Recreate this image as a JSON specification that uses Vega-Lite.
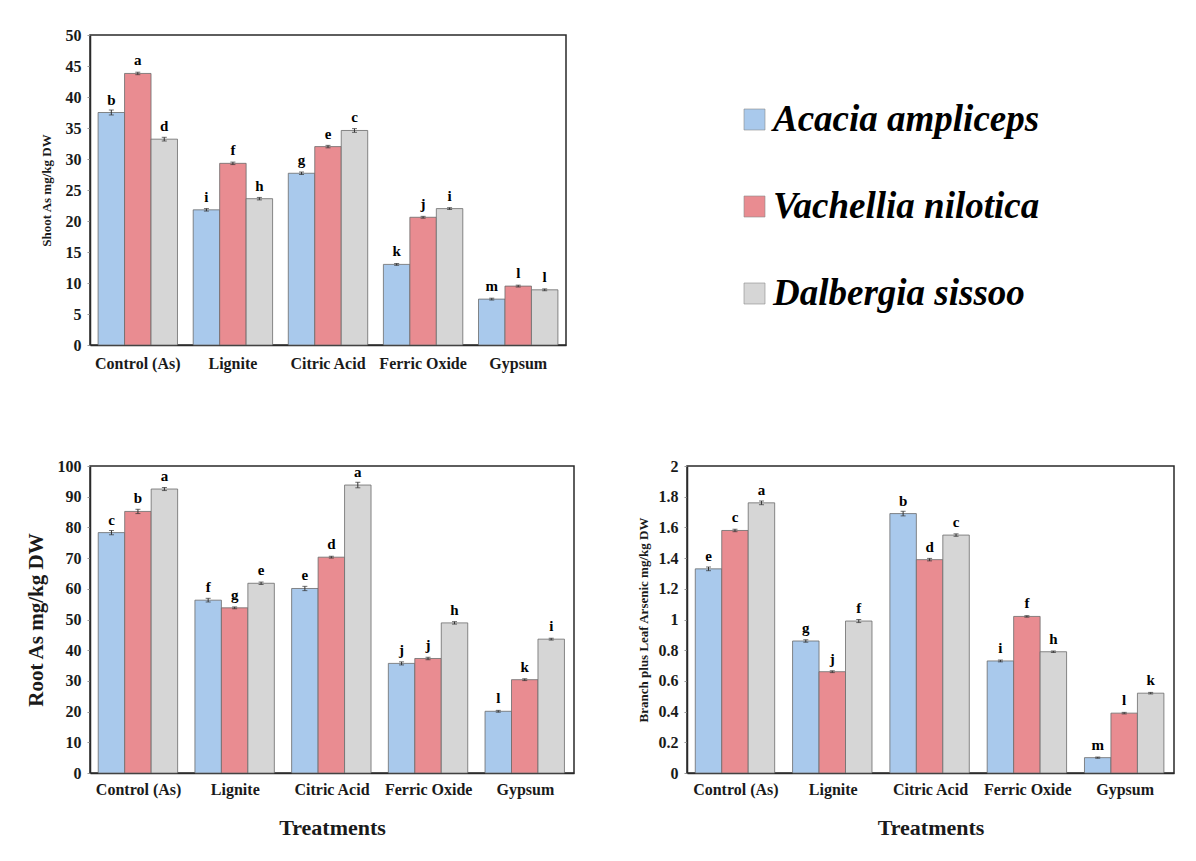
{
  "$schema": "https://vega.github.io/schema/vega-lite/v6.json",
  "background": "white",
  "padding": {"left": 24, "top": 26, "right": 5, "bottom": 5},
  "datasets": {
    "shootData": [
      {"treatment": "Control (As)", "species": "Acacia ampliceps", "value": 37.5, "err": 0.4, "letter": "b"},
      {"treatment": "Control (As)", "species": "Vachellia nilotica", "value": 43.8, "err": 0.2, "letter": "a"},
      {"treatment": "Control (As)", "species": "Dalbergia sissoo", "value": 33.2, "err": 0.3, "letter": "d"},
      {"treatment": "Lignite", "species": "Acacia ampliceps", "value": 21.8, "err": 0.2, "letter": "i"},
      {"treatment": "Lignite", "species": "Vachellia nilotica", "value": 29.3, "err": 0.2, "letter": "f"},
      {"treatment": "Lignite", "species": "Dalbergia sissoo", "value": 23.6, "err": 0.2, "letter": "h"},
      {"treatment": "Citric Acid", "species": "Acacia ampliceps", "value": 27.7, "err": 0.2, "letter": "g"},
      {"treatment": "Citric Acid", "species": "Vachellia nilotica", "value": 32.0, "err": 0.2, "letter": "e"},
      {"treatment": "Citric Acid", "species": "Dalbergia sissoo", "value": 34.6, "err": 0.3, "letter": "c"},
      {"treatment": "Ferric Oxide", "species": "Acacia ampliceps", "value": 13.0, "err": 0.15, "letter": "k"},
      {"treatment": "Ferric Oxide", "species": "Vachellia nilotica", "value": 20.6, "err": 0.15, "letter": "j"},
      {"treatment": "Ferric Oxide", "species": "Dalbergia sissoo", "value": 22.0, "err": 0.15, "letter": "i"},
      {"treatment": "Gypsum", "species": "Acacia ampliceps", "value": 7.4, "err": 0.15, "letter": "m"},
      {"treatment": "Gypsum", "species": "Vachellia nilotica", "value": 9.5, "err": 0.15, "letter": "l"},
      {"treatment": "Gypsum", "species": "Dalbergia sissoo", "value": 8.9, "err": 0.15, "letter": "l"}
    ],
    "rootData": [
      {"treatment": "Control (As)", "species": "Acacia ampliceps", "value": 78.3, "err": 0.7, "letter": "c"},
      {"treatment": "Control (As)", "species": "Vachellia nilotica", "value": 85.2, "err": 0.7, "letter": "b"},
      {"treatment": "Control (As)", "species": "Dalbergia sissoo", "value": 92.5, "err": 0.5, "letter": "a"},
      {"treatment": "Lignite", "species": "Acacia ampliceps", "value": 56.3, "err": 0.6, "letter": "f"},
      {"treatment": "Lignite", "species": "Vachellia nilotica", "value": 53.8, "err": 0.3, "letter": "g"},
      {"treatment": "Lignite", "species": "Dalbergia sissoo", "value": 61.8, "err": 0.4, "letter": "e"},
      {"treatment": "Citric Acid", "species": "Acacia ampliceps", "value": 60.1, "err": 0.7, "letter": "e"},
      {"treatment": "Citric Acid", "species": "Vachellia nilotica", "value": 70.3, "err": 0.3, "letter": "d"},
      {"treatment": "Citric Acid", "species": "Dalbergia sissoo", "value": 93.8, "err": 0.9, "letter": "a"},
      {"treatment": "Ferric Oxide", "species": "Acacia ampliceps", "value": 35.7, "err": 0.5, "letter": "j"},
      {"treatment": "Ferric Oxide", "species": "Vachellia nilotica", "value": 37.3, "err": 0.4, "letter": "j"},
      {"treatment": "Ferric Oxide", "species": "Dalbergia sissoo", "value": 48.9, "err": 0.4, "letter": "h"},
      {"treatment": "Gypsum", "species": "Acacia ampliceps", "value": 20.1, "err": 0.3, "letter": "l"},
      {"treatment": "Gypsum", "species": "Vachellia nilotica", "value": 30.4, "err": 0.3, "letter": "k"},
      {"treatment": "Gypsum", "species": "Dalbergia sissoo", "value": 43.6, "err": 0.3, "letter": "i"}
    ],
    "branchData": [
      {"treatment": "Control (As)", "species": "Acacia ampliceps", "value": 1.33, "err": 0.012, "letter": "e"},
      {"treatment": "Control (As)", "species": "Vachellia nilotica", "value": 1.58, "err": 0.008, "letter": "c"},
      {"treatment": "Control (As)", "species": "Dalbergia sissoo", "value": 1.76, "err": 0.012, "letter": "a"},
      {"treatment": "Lignite", "species": "Acacia ampliceps", "value": 0.86, "err": 0.008, "letter": "g"},
      {"treatment": "Lignite", "species": "Vachellia nilotica", "value": 0.66, "err": 0.006, "letter": "j"},
      {"treatment": "Lignite", "species": "Dalbergia sissoo", "value": 0.99, "err": 0.01, "letter": "f"},
      {"treatment": "Citric Acid", "species": "Acacia ampliceps", "value": 1.69, "err": 0.015, "letter": "b"},
      {"treatment": "Citric Acid", "species": "Vachellia nilotica", "value": 1.39, "err": 0.008, "letter": "d"},
      {"treatment": "Citric Acid", "species": "Dalbergia sissoo", "value": 1.55, "err": 0.008, "letter": "c"},
      {"treatment": "Ferric Oxide", "species": "Acacia ampliceps", "value": 0.73, "err": 0.006, "letter": "i"},
      {"treatment": "Ferric Oxide", "species": "Vachellia nilotica", "value": 1.02, "err": 0.005, "letter": "f"},
      {"treatment": "Ferric Oxide", "species": "Dalbergia sissoo", "value": 0.79, "err": 0.005, "letter": "h"},
      {"treatment": "Gypsum", "species": "Acacia ampliceps", "value": 0.10, "err": 0.004, "letter": "m"},
      {"treatment": "Gypsum", "species": "Vachellia nilotica", "value": 0.39, "err": 0.005, "letter": "l"},
      {"treatment": "Gypsum", "species": "Dalbergia sissoo", "value": 0.52, "err": 0.005, "letter": "k"}
    ],
    "legendData": [
      {"species": "Acacia ampliceps"},
      {"species": "Vachellia nilotica"},
      {"species": "Dalbergia sissoo"}
    ]
  },
  "columns": 2,
  "bounds": "flush",
  "spacing": {"row": 121, "column": 113},
  "resolve": {"legend": {"color": "independent"}},
  "concat": [
    {
      "data": {"name": "shootData"},
      "width": 476,
      "height": 310,
      "encoding": {
        "x": {"field": "treatment", "type": "nominal", "sort": ["Control (As)", "Lignite", "Citric Acid", "Ferric Oxide", "Gypsum"], "scale": {"paddingInner": 0.165, "paddingOuter": 0.085}, "axis": {"title": null, "labelPadding": 10}},
        "xOffset": {"field": "species", "type": "nominal", "sort": ["Acacia ampliceps", "Vachellia nilotica", "Dalbergia sissoo"], "scale": {"paddingInner": 0, "paddingOuter": 0}},
        "y": {"field": "value", "type": "quantitative", "scale": {"domain": [0, 50], "nice": false}, "axis": {"values": [0, 5, 10, 15, 20, 25, 30, 35, 40, 45, 50], "title": "Shoot As mg/kg DW", "titleFontSize": 13, "titlePadding": 12}}
      },
      "layer": [
        {"mark": {"type": "bar", "stroke": "#6b6b6b", "strokeWidth": 0.8}, "encoding": {"color": {"field": "species", "type": "nominal", "scale": {"domain": ["Acacia ampliceps", "Vachellia nilotica", "Dalbergia sissoo"], "range": ["#a9c9ec", "#e98c91", "#d6d6d6"]}, "legend": null}}},
        {"mark": {"type": "errorbar", "ticks": {"size": 5}, "color": "#333"}, "encoding": {"yError": {"field": "err"}}},
        {"mark": {"type": "text", "baseline": "bottom", "dy": -5, "fontSize": 15, "fontWeight": "bold", "font": "Liberation Serif", "color": "black"}, "encoding": {"text": {"field": "letter"}}}
      ]
    },
    {
      "data": {"name": "legendData"},
      "width": 487,
      "height": 310,
      "view": {"stroke": null},
      "mark": {"type": "square", "opacity": 0, "size": 0},
      "encoding": {
        "color": {"field": "species", "type": "nominal", "sort": ["Acacia ampliceps", "Vachellia nilotica", "Dalbergia sissoo"], "scale": {"domain": ["Acacia ampliceps", "Vachellia nilotica", "Dalbergia sissoo"], "range": ["#a9c9ec", "#e98c91", "#d6d6d6"]},
          "legend": {"orient": "none", "legendX": 49, "legendY": 66, "title": null, "symbolType": "square", "symbolSize": 441, "symbolOpacity": 1, "symbolStrokeColor": "#8a8a8a", "symbolStrokeWidth": 0.6, "labelFont": "Liberation Serif", "labelFontSize": 37, "labelFontStyle": "italic", "labelFontWeight": "bold", "labelColor": "black", "labelLimit": 0, "labelOffset": 0, "rowPadding": 49}}
      }
    },
    {
      "data": {"name": "rootData"},
      "width": 484,
      "height": 307,
      "encoding": {
        "x": {"field": "treatment", "type": "nominal", "sort": ["Control (As)", "Lignite", "Citric Acid", "Ferric Oxide", "Gypsum"], "scale": {"paddingInner": 0.165, "paddingOuter": 0.085}, "axis": {"title": "Treatments", "labelPadding": 8, "titleFontSize": 22, "titlePadding": 20}},
        "xOffset": {"field": "species", "type": "nominal", "sort": ["Acacia ampliceps", "Vachellia nilotica", "Dalbergia sissoo"], "scale": {"paddingInner": 0, "paddingOuter": 0}},
        "y": {"field": "value", "type": "quantitative", "scale": {"domain": [0, 100], "nice": false}, "axis": {"values": [0, 10, 20, 30, 40, 50, 60, 70, 80, 90, 100], "title": "Root As mg/kg DW", "titleFontSize": 21, "titlePadding": 11}}
      },
      "layer": [
        {"mark": {"type": "bar", "stroke": "#6b6b6b", "strokeWidth": 0.8}, "encoding": {"color": {"field": "species", "type": "nominal", "scale": {"domain": ["Acacia ampliceps", "Vachellia nilotica", "Dalbergia sissoo"], "range": ["#a9c9ec", "#e98c91", "#d6d6d6"]}, "legend": null}}},
        {"mark": {"type": "errorbar", "ticks": {"size": 5}, "color": "#333"}, "encoding": {"yError": {"field": "err"}}},
        {"mark": {"type": "text", "baseline": "bottom", "dy": -5, "fontSize": 15, "fontWeight": "bold", "font": "Liberation Serif", "color": "black"}, "encoding": {"text": {"field": "letter"}}}
      ]
    },
    {
      "data": {"name": "branchData"},
      "width": 487,
      "height": 307,
      "encoding": {
        "x": {"field": "treatment", "type": "nominal", "sort": ["Control (As)", "Lignite", "Citric Acid", "Ferric Oxide", "Gypsum"], "scale": {"paddingInner": 0.165, "paddingOuter": 0.085}, "axis": {"title": "Treatments", "labelPadding": 8, "titleFontSize": 22, "titlePadding": 20}},
        "xOffset": {"field": "species", "type": "nominal", "sort": ["Acacia ampliceps", "Vachellia nilotica", "Dalbergia sissoo"], "scale": {"paddingInner": 0, "paddingOuter": 0}},
        "y": {"field": "value", "type": "quantitative", "scale": {"domain": [0, 2], "nice": false}, "axis": {"values": [0, 0.2, 0.4, 0.6, 0.8, 1, 1.2, 1.4, 1.6, 1.8, 2], "format": "~g", "title": "Branch plus Leaf Arsenic mg/kg DW", "titleFontSize": 13, "titlePadding": 8}}
      },
      "layer": [
        {"mark": {"type": "bar", "stroke": "#6b6b6b", "strokeWidth": 0.8}, "encoding": {"color": {"field": "species", "type": "nominal", "scale": {"domain": ["Acacia ampliceps", "Vachellia nilotica", "Dalbergia sissoo"], "range": ["#a9c9ec", "#e98c91", "#d6d6d6"]}, "legend": null}}},
        {"mark": {"type": "errorbar", "ticks": {"size": 5}, "color": "#333"}, "encoding": {"yError": {"field": "err"}}},
        {"mark": {"type": "text", "baseline": "bottom", "dy": -5, "fontSize": 15, "fontWeight": "bold", "font": "Liberation Serif", "color": "black"}, "encoding": {"text": {"field": "letter"}}}
      ]
    }
  ],
  "config": {
    "font": "Liberation Serif",
    "view": {"stroke": "#2a2a2a", "strokeWidth": 1.5},
    "axis": {
      "labelFont": "Liberation Serif",
      "labelFontSize": 16,
      "labelFontWeight": "bold",
      "labelColor": "#1a1a1a",
      "titleFont": "Liberation Serif",
      "titleFontWeight": "bold",
      "titleColor": "#1a1a1a",
      "grid": false,
      "domainColor": "#2a2a2a",
      "domainWidth": 1.5,
      "tickColor": "#999",
      "tickSize": 3
    },
    "axisX": {"labelAngle": 0, "ticks": false, "labelLimit": 0},
    "axisY": {"labelPadding": 6}
  }
}
